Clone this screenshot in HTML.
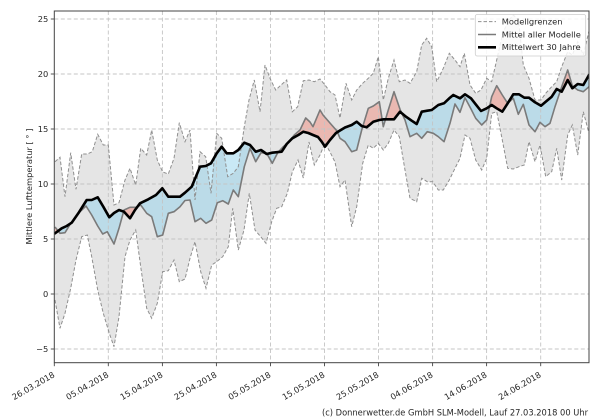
<!DOCTYPE html>
<html>
<head>
<meta charset="utf-8">
<style>
  html, body { margin: 0; padding: 0; background: #ffffff; }
  svg { display: block; }
  text { font-family: "DejaVu Sans", "Liberation Sans", sans-serif; fill: #262626; }
</style>
</head>
<body>
<svg width="600" height="420" viewBox="0 0 600 420" xmlns="http://www.w3.org/2000/svg">
  <defs>
    <clipPath id="plot">
      <rect x="54.3" y="11" width="534.7" height="351.7"/>
    </clipPath>
    <clipPath id="aboveModel">
      <polygon points="55,227 60,233.3 65,232.7 70.7,223.3 78.3,213.3 86,206 91.7,215 97.7,226 102.7,234 107.3,231.7 114,244 119,228.3 124,210 130,207.3 136,207.3 140.7,205 146.7,213.3 151.7,216.7 157.3,236.7 162.7,235 168.3,213.3 174,211.7 180,206.7 185,200.5 190,200 195,221.7 200.7,218.3 206,223.3 211.7,220 217.3,202.7 222.7,200.7 228.3,204 233.3,190 238.3,196.7 244.3,166.7 250,148.3 255.7,161.7 261,152.7 266.7,153.3 272.3,163.3 277.7,152.7 283.3,146.7 289,141.7 294.3,135 300,130 305.7,118 310,122 313,126.7 320,110 323,115 331.7,125 337,131 340,138.3 345,141.7 351.7,151.7 356.7,150 361.7,130 368.3,108.3 373.3,106 379.3,101.7 383.3,126.7 388.3,110 394,91.7 400,109.3 405,120 410,136.7 416.7,133.3 421.7,138.3 427.3,131.7 433.3,133.3 438.3,136.7 444,141.7 450,123.3 455,104 460,112.3 465,97.7 471,109 475.7,118.3 481.7,125 486.7,120 491.7,96.7 496.7,85.7 502.3,95 507.7,103.3 513.3,98.3 518.3,114.3 523.3,104.3 529,125 535,131.7 540,122.3 545,126.7 550,123.3 555,106.7 561.7,86.7 567.7,70 572.3,85.7 577.7,90 583.3,91.7 589,86.7 589,0 55,0"/>
    </clipPath>
    <clipPath id="belowModel">
      <polygon points="55,227 60,233.3 65,232.7 70.7,223.3 78.3,213.3 86,206 91.7,215 97.7,226 102.7,234 107.3,231.7 114,244 119,228.3 124,210 130,207.3 136,207.3 140.7,205 146.7,213.3 151.7,216.7 157.3,236.7 162.7,235 168.3,213.3 174,211.7 180,206.7 185,200.5 190,200 195,221.7 200.7,218.3 206,223.3 211.7,220 217.3,202.7 222.7,200.7 228.3,204 233.3,190 238.3,196.7 244.3,166.7 250,148.3 255.7,161.7 261,152.7 266.7,153.3 272.3,163.3 277.7,152.7 283.3,146.7 289,141.7 294.3,135 300,130 305.7,118 310,122 313,126.7 320,110 323,115 331.7,125 337,131 340,138.3 345,141.7 351.7,151.7 356.7,150 361.7,130 368.3,108.3 373.3,106 379.3,101.7 383.3,126.7 388.3,110 394,91.7 400,109.3 405,120 410,136.7 416.7,133.3 421.7,138.3 427.3,131.7 433.3,133.3 438.3,136.7 444,141.7 450,123.3 455,104 460,112.3 465,97.7 471,109 475.7,118.3 481.7,125 486.7,120 491.7,96.7 496.7,85.7 502.3,95 507.7,103.3 513.3,98.3 518.3,114.3 523.3,104.3 529,125 535,131.7 540,122.3 545,126.7 550,123.3 555,106.7 561.7,86.7 567.7,70 572.3,85.7 577.7,90 583.3,91.7 589,86.7 589,420 55,420"/>
    </clipPath>
  </defs>

  <rect x="0" y="0" width="600" height="420" fill="#ffffff"/>

  <g clip-path="url(#plot)">
    <!-- model envelope (upper to bottom, then white below lower) -->
    <polygon fill="#e5e5e5" points="55,161.7 60,157.3 65,196.7 70.7,152.7 76,189.3 81.7,154 87.3,154 92.3,151.7 97.7,134.3 103.3,145 108.3,145 114,205 119,202.7 125,180 130,168.3 135.7,185 140.7,148.3 146.7,155 151.7,130 157.3,160 162.7,172 168.3,174 174,158.3 179.3,122.7 185,141.7 190,130 195,200 200,151.7 205.7,156.7 211,193.3 216.7,133.3 221.7,138.3 227.7,176.7 233.3,173.3 238.3,166.7 244.3,126.7 249,100 254.3,80 260,111.7 265,65 270,78.3 275.7,90 281,85 286.7,80 292.3,111.7 297.7,106.7 303.3,80.7 309,80 314.3,81.7 320,79 325,85 330,91.7 335,95 340,118 346,83.3 351.7,100 356.7,90 362.7,83.3 368.3,78.3 373.3,73.3 378.3,56.7 383.3,100 388.3,78.3 394,60 399.3,81.7 405,80 410,83.3 416.7,71.7 421.7,45 426.7,38.3 431.7,46.7 436.7,81.7 443.3,68.3 449.3,53.3 455,60 460,66.7 464.3,53.3 470,85 475.7,93.3 481,90 486.7,78.3 491.7,81.7 496.7,60 502.3,35 507.7,21.7 513.3,15 518.5,20 523.3,65 529,78.3 535,100 541,100 545.7,93.3 551.7,86.7 556.7,81.7 561.7,66.7 567.7,51.7 572.3,55 577.7,41.7 583.3,55 589,31 589,363 55,363"/>
    <polygon fill="#ffffff" points="55,300 60,328.3 65,313.3 70.7,288.3 76,260 81.7,236.7 87.3,235 91.7,256.7 97.7,290 103.3,313.3 109.3,333.3 114,346.7 119,316.7 125,256.7 130,240 135.7,230 140.7,266.7 146.7,308.3 151.7,318.3 157.3,303.3 162.7,271.7 168.3,270.7 174,260 179.3,281.7 185,279 190,258.3 195,241.7 200.7,271.7 206,288.3 211.7,265 216.7,261.7 222.7,256.7 228.3,246.7 232.7,208.3 238.3,250 244,230 249.3,193.3 255,230 260.7,236.7 266,243.3 271.7,221.7 276.7,208.3 281.7,206.7 287.3,193.3 292.3,172 298,160 303.3,178 309,142 314.3,165 320,155 325,143 330,152 335,162 340,186.7 345,180 351.7,226.7 356.7,206.7 362.7,163.3 368.3,145 373.3,148.3 378.3,143.3 383.3,150 388.3,143.3 394,130 399.3,136.7 405,170 410,198.3 416.7,201.7 421.7,178.3 427.3,181.7 432.7,181.7 438.3,190 443.3,190 449.3,180 455,168.3 460,158.3 465,135 470,138.3 475.7,160 481.7,170 486.7,158.3 491.7,113.3 496.7,111.7 502.3,140 507.7,168.3 513.3,169 519,166.7 524.3,165 529,141.7 535,161.7 540,145 545.7,176.7 551.7,171.7 556.7,148.3 561.7,180 567.7,135 572.3,125 577.7,155 583.3,111.7 589,133.3 589,363 55,363"/>

    <!-- blue: model below climate mean -->
    <g clip-path="url(#aboveModel)">
      <polygon fill="#87ceeb" fill-opacity="0.45" points="55,233.3 61.7,228.3 66.7,226 71.7,222.7 78.3,213.3 86.7,200 91.7,200 97.7,197.3 103.3,206.7 109.3,217.3 114,213 119,210 124,211.7 130,218.3 135,210 140,203.3 148.3,199.3 156,195 162.3,188.3 168.3,196.7 174,196.7 180,196.7 185,192.7 191.7,186.7 200,166.7 205.7,166 211,163.3 216.7,153.3 221.7,146.7 226.7,153.3 233.3,153.3 238.3,150 244.3,142.7 250,145 255.7,151.7 261,150 266.7,154 272.3,152.7 281.7,151.7 286.7,144 292.3,138.3 298.3,135 303.3,131.7 308.3,133 313,135 318,137 321.7,141.7 325,146.7 330,140 336,133 340,130.5 345,127.5 351.7,125 356.7,121.7 361.7,126 366.7,127.3 373.3,121.7 379.3,120 384,119.3 390,119.3 394,119.3 400,111.7 406,116.7 411.7,120.7 416.7,124 421.7,111.7 427.3,110.7 431.7,110 438.3,105 444,103.3 449.3,98.3 453.3,95 460,98.3 465,94.3 471,98.3 475.7,104.3 481,111 486.7,108.3 491.7,105 496.7,108.3 502.3,111.7 507.7,103.3 513.3,94.3 519,94.3 524.3,97.7 529,97.7 535,102.3 541,105.7 545.7,101.7 551.7,96.7 556.7,89 561.7,91.7 567.7,80 572.3,88.3 577.7,84 583.3,85 589,75 589,420 55,420"/>
    </g>
    <!-- red: model above climate mean -->
    <g clip-path="url(#belowModel)">
      <polygon fill="#f08070" fill-opacity="0.45" points="55,233.3 61.7,228.3 66.7,226 71.7,222.7 78.3,213.3 86.7,200 91.7,200 97.7,197.3 103.3,206.7 109.3,217.3 114,213 119,210 124,211.7 130,218.3 135,210 140,203.3 148.3,199.3 156,195 162.3,188.3 168.3,196.7 174,196.7 180,196.7 185,192.7 191.7,186.7 200,166.7 205.7,166 211,163.3 216.7,153.3 221.7,146.7 226.7,153.3 233.3,153.3 238.3,150 244.3,142.7 250,145 255.7,151.7 261,150 266.7,154 272.3,152.7 281.7,151.7 286.7,144 292.3,138.3 298.3,135 303.3,131.7 308.3,133 313,135 318,137 321.7,141.7 325,146.7 330,140 336,133 340,130.5 345,127.5 351.7,125 356.7,121.7 361.7,126 366.7,127.3 373.3,121.7 379.3,120 384,119.3 390,119.3 394,119.3 400,111.7 406,116.7 411.7,120.7 416.7,124 421.7,111.7 427.3,110.7 431.7,110 438.3,105 444,103.3 449.3,98.3 453.3,95 460,98.3 465,94.3 471,98.3 475.7,104.3 481,111 486.7,108.3 491.7,105 496.7,108.3 502.3,111.7 507.7,103.3 513.3,94.3 519,94.3 524.3,97.7 529,97.7 535,102.3 541,105.7 545.7,101.7 551.7,96.7 556.7,89 561.7,91.7 567.7,80 572.3,88.3 577.7,84 583.3,85 589,75 589,0 55,0"/>
    </g>

    <!-- grid -->
    <g stroke="#c4c4c4" stroke-width="0.9" stroke-dasharray="4,2.5" fill="none">
      <line x1="54.3" y1="19" x2="589" y2="19"/>
      <line x1="54.3" y1="74" x2="589" y2="74"/>
      <line x1="54.3" y1="129" x2="589" y2="129"/>
      <line x1="54.3" y1="184" x2="589" y2="184"/>
      <line x1="54.3" y1="239" x2="589" y2="239"/>
      <line x1="54.3" y1="294" x2="589" y2="294"/>
      <line x1="54.3" y1="349" x2="589" y2="349"/>
      <line x1="108.3" y1="11" x2="108.3" y2="363"/>
      <line x1="162.4" y1="11" x2="162.4" y2="363"/>
      <line x1="216.4" y1="11" x2="216.4" y2="363"/>
      <line x1="270.5" y1="11" x2="270.5" y2="363"/>
      <line x1="324.5" y1="11" x2="324.5" y2="363"/>
      <line x1="378.5" y1="11" x2="378.5" y2="363"/>
      <line x1="432.6" y1="11" x2="432.6" y2="363"/>
      <line x1="486.6" y1="11" x2="486.6" y2="363"/>
      <line x1="540.7" y1="11" x2="540.7" y2="363"/>
    </g>

    <!-- bounds -->
    <g stroke="#8f8f8f" stroke-width="1" stroke-dasharray="3.5,2" fill="none">
      <polyline points="55,161.7 60,157.3 65,196.7 70.7,152.7 76,189.3 81.7,154 87.3,154 92.3,151.7 97.7,134.3 103.3,145 108.3,145 114,205 119,202.7 125,180 130,168.3 135.7,185 140.7,148.3 146.7,155 151.7,130 157.3,160 162.7,172 168.3,174 174,158.3 179.3,122.7 185,141.7 190,130 195,200 200,151.7 205.7,156.7 211,193.3 216.7,133.3 221.7,138.3 227.7,176.7 233.3,173.3 238.3,166.7 244.3,126.7 249,100 254.3,80 260,111.7 265,65 270,78.3 275.7,90 281,85 286.7,80 292.3,111.7 297.7,106.7 303.3,80.7 309,80 314.3,81.7 320,79 325,85 330,91.7 335,95 340,118 346,83.3 351.7,100 356.7,90 362.7,83.3 368.3,78.3 373.3,73.3 378.3,56.7 383.3,100 388.3,78.3 394,60 399.3,81.7 405,80 410,83.3 416.7,71.7 421.7,45 426.7,38.3 431.7,46.7 436.7,81.7 443.3,68.3 449.3,53.3 455,60 460,66.7 464.3,53.3 470,85 475.7,93.3 481,90 486.7,78.3 491.7,81.7 496.7,60 502.3,35 507.7,21.7 513.3,15 518.5,20 523.3,65 529,78.3 535,100 541,100 545.7,93.3 551.7,86.7 556.7,81.7 561.7,66.7 567.7,51.7 572.3,55 577.7,41.7 583.3,55 589,31"/>
      <polyline points="55,300 60,328.3 65,313.3 70.7,288.3 76,260 81.7,236.7 87.3,235 91.7,256.7 97.7,290 103.3,313.3 109.3,333.3 114,346.7 119,316.7 125,256.7 130,240 135.7,230 140.7,266.7 146.7,308.3 151.7,318.3 157.3,303.3 162.7,271.7 168.3,270.7 174,260 179.3,281.7 185,279 190,258.3 195,241.7 200.7,271.7 206,288.3 211.7,265 216.7,261.7 222.7,256.7 228.3,246.7 232.7,208.3 238.3,250 244,230 249.3,193.3 255,230 260.7,236.7 266,243.3 271.7,221.7 276.7,208.3 281.7,206.7 287.3,193.3 292.3,172 298,160 303.3,178 309,142 314.3,165 320,155 325,143 330,152 335,162 340,186.7 345,180 351.7,226.7 356.7,206.7 362.7,163.3 368.3,145 373.3,148.3 378.3,143.3 383.3,150 388.3,143.3 394,130 399.3,136.7 405,170 410,198.3 416.7,201.7 421.7,178.3 427.3,181.7 432.7,181.7 438.3,190 443.3,190 449.3,180 455,168.3 460,158.3 465,135 470,138.3 475.7,160 481.7,170 486.7,158.3 491.7,113.3 496.7,111.7 502.3,140 507.7,168.3 513.3,169 519,166.7 524.3,165 529,141.7 535,161.7 540,145 545.7,176.7 551.7,171.7 556.7,148.3 561.7,180 567.7,135 572.3,125 577.7,155 583.3,111.7 589,133.3"/>
    </g>

    <!-- model mean -->
    <polyline fill="none" stroke="#7a7a7a" stroke-width="1.6" stroke-linejoin="round" points="55,227 60,233.3 65,232.7 70.7,223.3 78.3,213.3 86,206 91.7,215 97.7,226 102.7,234 107.3,231.7 114,244 119,228.3 124,210 130,207.3 136,207.3 140.7,205 146.7,213.3 151.7,216.7 157.3,236.7 162.7,235 168.3,213.3 174,211.7 180,206.7 185,200.5 190,200 195,221.7 200.7,218.3 206,223.3 211.7,220 217.3,202.7 222.7,200.7 228.3,204 233.3,190 238.3,196.7 244.3,166.7 250,148.3 255.7,161.7 261,152.7 266.7,153.3 272.3,163.3 277.7,152.7 283.3,146.7 289,141.7 294.3,135 300,130 305.7,118 310,122 313,126.7 320,110 323,115 331.7,125 337,131 340,138.3 345,141.7 351.7,151.7 356.7,150 361.7,130 368.3,108.3 373.3,106 379.3,101.7 383.3,126.7 388.3,110 394,91.7 400,109.3 405,120 410,136.7 416.7,133.3 421.7,138.3 427.3,131.7 433.3,133.3 438.3,136.7 444,141.7 450,123.3 455,104 460,112.3 465,97.7 471,109 475.7,118.3 481.7,125 486.7,120 491.7,96.7 496.7,85.7 502.3,95 507.7,103.3 513.3,98.3 518.3,114.3 523.3,104.3 529,125 535,131.7 540,122.3 545,126.7 550,123.3 555,106.7 561.7,86.7 567.7,70 572.3,85.7 577.7,90 583.3,91.7 589,86.7"/>

    <!-- 30-year mean -->
    <polyline fill="none" stroke="#000000" stroke-width="2.6" stroke-linejoin="round" stroke-linecap="round" points="55,233.3 61.7,228.3 66.7,226 71.7,222.7 78.3,213.3 86.7,200 91.7,200 97.7,197.3 103.3,206.7 109.3,217.3 114,213 119,210 124,211.7 130,218.3 135,210 140,203.3 148.3,199.3 156,195 162.3,188.3 168.3,196.7 174,196.7 180,196.7 185,192.7 191.7,186.7 200,166.7 205.7,166 211,163.3 216.7,153.3 221.7,146.7 226.7,153.3 233.3,153.3 238.3,150 244.3,142.7 250,145 255.7,151.7 261,150 266.7,154 272.3,152.7 281.7,151.7 286.7,144 292.3,138.3 298.3,135 303.3,131.7 308.3,133 313,135 318,137 321.7,141.7 325,146.7 330,140 336,133 340,130.5 345,127.5 351.7,125 356.7,121.7 361.7,126 366.7,127.3 373.3,121.7 379.3,120 384,119.3 390,119.3 394,119.3 400,111.7 406,116.7 411.7,120.7 416.7,124 421.7,111.7 427.3,110.7 431.7,110 438.3,105 444,103.3 449.3,98.3 453.3,95 460,98.3 465,94.3 471,98.3 475.7,104.3 481,111 486.7,108.3 491.7,105 496.7,108.3 502.3,111.7 507.7,103.3 513.3,94.3 519,94.3 524.3,97.7 529,97.7 535,102.3 541,105.7 545.7,101.7 551.7,96.7 556.7,89 561.7,91.7 567.7,80 572.3,88.3 577.7,84 583.3,85 589,75"/>
  </g>

  <!-- axes frame -->
  <rect x="54.3" y="11" width="534.7" height="351.7" fill="none" stroke="#444444" stroke-width="1"/>

  <!-- y ticks -->
  <g stroke="#444444" stroke-width="0.9">
    <line x1="50.8" y1="19" x2="54.3" y2="19"/>
    <line x1="50.8" y1="74" x2="54.3" y2="74"/>
    <line x1="50.8" y1="129" x2="54.3" y2="129"/>
    <line x1="50.8" y1="184" x2="54.3" y2="184"/>
    <line x1="50.8" y1="239" x2="54.3" y2="239"/>
    <line x1="50.8" y1="294" x2="54.3" y2="294"/>
    <line x1="50.8" y1="349" x2="54.3" y2="349"/>
  </g>
  <g font-size="8.3" text-anchor="end">
    <text x="48.3" y="21.9">25</text>
    <text x="48.3" y="76.9">20</text>
    <text x="48.3" y="131.9">15</text>
    <text x="48.3" y="186.9">10</text>
    <text x="48.3" y="241.9">5</text>
    <text x="48.3" y="296.9">0</text>
    <text x="48.3" y="351.9">−5</text>
  </g>

  <!-- x ticks -->
  <g stroke="#444444" stroke-width="0.9">
    <line x1="54.3" y1="362.7" x2="54.3" y2="366.2"/>
    <line x1="108.3" y1="362.7" x2="108.3" y2="366.2"/>
    <line x1="162.4" y1="362.7" x2="162.4" y2="366.2"/>
    <line x1="216.4" y1="362.7" x2="216.4" y2="366.2"/>
    <line x1="270.5" y1="362.7" x2="270.5" y2="366.2"/>
    <line x1="324.5" y1="362.7" x2="324.5" y2="366.2"/>
    <line x1="378.5" y1="362.7" x2="378.5" y2="366.2"/>
    <line x1="432.6" y1="362.7" x2="432.6" y2="366.2"/>
    <line x1="486.6" y1="362.7" x2="486.6" y2="366.2"/>
    <line x1="540.7" y1="362.7" x2="540.7" y2="366.2"/>
  </g>
  <g font-size="8.3" text-anchor="end">
    <text transform="translate(55.3,376.5) rotate(-30)">26.03.2018</text>
    <text transform="translate(109.3,376.5) rotate(-30)">05.04.2018</text>
    <text transform="translate(163.4,376.5) rotate(-30)">15.04.2018</text>
    <text transform="translate(217.4,376.5) rotate(-30)">25.04.2018</text>
    <text transform="translate(271.5,376.5) rotate(-30)">05.05.2018</text>
    <text transform="translate(325.5,376.5) rotate(-30)">15.05.2018</text>
    <text transform="translate(379.5,376.5) rotate(-30)">25.05.2018</text>
    <text transform="translate(433.6,376.5) rotate(-30)">04.06.2018</text>
    <text transform="translate(487.6,376.5) rotate(-30)">14.06.2018</text>
    <text transform="translate(541.7,376.5) rotate(-30)">24.06.2018</text>
  </g>

  <!-- y label -->
  <text font-size="8.3" text-anchor="middle" transform="translate(31.8,186.5) rotate(-90)">Mittlere Lufttemperatur [ ° ]</text>

  <!-- legend -->
  <rect x="475.3" y="14.5" width="110.4" height="41.5" rx="2" ry="2" fill="#ffffff" fill-opacity="0.85" stroke="#cccccc" stroke-width="0.8"/>
  <line x1="478" y1="21.6" x2="496" y2="21.6" stroke="#8f8f8f" stroke-width="1" stroke-dasharray="3.5,2"/>
  <line x1="478" y1="34.5" x2="496" y2="34.5" stroke="#7a7a7a" stroke-width="1.6"/>
  <line x1="478" y1="47.3" x2="496" y2="47.3" stroke="#000000" stroke-width="2.6"/>
  <g font-size="8.3">
    <text x="501.7" y="24.5">Modellgrenzen</text>
    <text x="501.7" y="37.4">Mittel aller Modelle</text>
    <text x="501.7" y="50.2">Mittelwert 30 Jahre</text>
  </g>

  <!-- footer -->
  <text x="588" y="415.5" font-size="8.6" text-anchor="end" textLength="266" lengthAdjust="spacingAndGlyphs">(c) Donnerwetter.de GmbH SLM-Modell, Lauf 27.03.2018 00 Uhr</text>
</svg>
</body>
</html>
